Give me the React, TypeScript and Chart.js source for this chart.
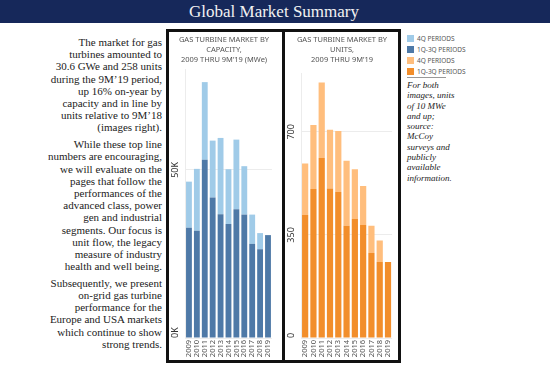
import React, { useEffect, useRef } from "react";
import { Chart, registerables } from "chart.js";

Chart.register(...registerables);

const YEARS = ["2009", "2010", "2011", "2012", "2013", "2014", "2015", "2016", "2017", "2018", "2019"];

// Capacity, thousand MWe
const CAP_Q1Q3 = [32.8, 31.9, 53.0, 41.8, 36.8, 33.9, 38.3, 36.7, 28.0, 26.4, 30.6];
const CAP_Q4 = [13.7, 18.4, 23.1, 16.9, 22.7, 16.3, 20.7, 14.4, 8.7, 4.8, 0];
const CAP_TICKS = [0, 50];

// Units
const UNIT_Q1Q3 = [418, 506, 611, 508, 496, 381, 404, 384, 289, 258, 258];
const UNIT_Q4 = [175, 217, 257, 199, 207, 221, 169, 132, 92, 73, 0];
const UNIT_TICKS = [0, 350, 700];

const LEGEND_ITEMS = [
  { label: "4Q PERIODS", color: "#a0cbe8" },
  { label: "1Q-3Q PERIODS", color: "#4e79a7" },
  { label: "4Q PERIODS", color: "#ffbe7d" },
  { label: "1Q-3Q PERIODS", color: "#f28e2b" },
];

const SANS = "'Noto Sans', 'Open Sans', sans-serif";
const SERIF = "'Liberation Serif', 'DejaVu Serif', serif";

type BarProps = {
  left: number;
  width: number;
  title: string[];
  q13: number[];
  q4: number[];
  dark: string;
  light: string;
  max: number;
  ticks: number[];
  suffix: string;
  titlePadBottom: number;
  barPct: number;
};

function BarChart(p: BarProps) {
  const ref = useRef<HTMLCanvasElement>(null);
  useEffect(() => {
    if (!ref.current) return;
    const yLabelPlugin = {
      id: "yLabels",
      afterDraw(chart: any) {
        const ctx = chart.ctx;
        const ys = chart.scales.y;
        ctx.save();
        ctx.fillStyle = "#333";
        ctx.font = `9px ${SANS}`;
        ctx.textBaseline = "middle";
        for (const v of p.ticks) {
          const py = ys.getPixelForValue(v);
          ctx.save();
          ctx.translate(chart.chartArea.left - 9.5, py);
          ctx.rotate(-Math.PI / 2);
          ctx.textAlign = v === 0 ? "left" : "center";
          ctx.fillText(`${v}${p.suffix}`, v === 0 ? 0 : 0, 0);
          ctx.restore();
        }
        ctx.restore();
      },
    };
    const chart = new Chart(ref.current, {
      type: "bar",
      data: {
        labels: YEARS,
        datasets: [
          {
            label: "1Q-3Q PERIODS",
            data: p.q13,
            backgroundColor: p.dark,
            barPercentage: p.barPct,
            categoryPercentage: 1,
          },
          {
            label: "4Q PERIODS",
            data: p.q4,
            backgroundColor: p.light,
            barPercentage: p.barPct,
            categoryPercentage: 1,
          },
        ],
      },
      options: {
        animation: false,
        responsive: false,
        maintainAspectRatio: false,
        layout: { padding: 0 },
        plugins: {
          legend: { display: false },
          tooltip: { enabled: false },
          title: {
            display: true,
            text: p.title,
            color: "#555",
            font: { family: SANS, size: 7.5, weight: "normal", lineHeight: 1.3334 },
            padding: { top: 3, bottom: p.titlePadBottom },
          },
        },
        scales: {
          x: {
            stacked: true,
            grid: { display: false, drawTicks: false },
            border: { display: false },
            ticks: {
              color: "#555",
              font: { family: SANS, size: 7.5 },
              minRotation: 90,
              maxRotation: 90,
              padding: 2,
              autoSkip: false,
            },
            afterFit(scale: any) {
              scale.height = 22;
            },
          },
          y: {
            stacked: true,
            min: 0,
            max: p.max,
            grid: { color: "#ececec", drawTicks: false },
            border: { display: true, color: "#ececec" },
            ticks: { display: false },
            afterBuildTicks(scale: any) {
              scale.ticks = p.ticks.map((v) => ({ value: v }));
            },
            afterFit(scale: any) {
              scale.width = 16;
            },
          },
        },
      },
      plugins: [yLabelPlugin],
    });
    return () => chart.destroy();
  }, []);
  return (
    <canvas
      ref={ref}
      width={p.width}
      height={328}
      style={{ position: "absolute", left: p.left, top: 32, width: p.width, height: 328 }}
    />
  );
}

const P1 = [
  "The market for gas",
  "turbines amounted to",
  "30.6 GWe and 258 units",
  "during the 9M\u201919 period,",
  "up 16% on-year by",
  "capacity and in line by",
  "units relative to 9M\u201918",
  "(images right).",
];
const P2 = [
  "While these top line",
  "numbers are encouraging,",
  "we will evaluate on the",
  "pages that follow the",
  "performances of the",
  "advanced class, power",
  "gen and industrial",
  "segments. Our focus is",
  "unit flow, the legacy",
  "measure of industry",
  "health and well being.",
];
const P3 = [
  "Subsequently, we present",
  "on-grid gas turbine",
  "performance for the",
  "Europe and USA markets",
  "which continue to show",
  "strong trends.",
];
const NOTE = [
  "For both",
  "images, units",
  "of 10 MWe",
  "and up;",
  "source:",
  "McCoy",
  "surveys and",
  "publicly",
  "available",
  "information.",
];

export default function App() {
  const para = (lines: string[], mt: number) => (
    <div style={{ marginTop: mt }}>
      {lines.map((l, i) => (
        <div key={i}>{l}</div>
      ))}
    </div>
  );
  return (
    <div style={{ position: "absolute", left: 0, top: 0, width: 550, height: 371, background: "#fff", overflow: "hidden" }}>
      <div
        style={{
          position: "absolute",
          left: 0,
          top: 0,
          width: 550,
          height: 23,
          background: "#16285a",
        }}
      />
      <div
        style={{
          position: "absolute",
          left: 174,
          top: 0,
          width: 200,
          height: 23,
          lineHeight: "23px",
          textAlign: "center",
          color: "#f2f2f2",
          fontFamily: SERIF,
          fontSize: 17,
        }}
      >
        Global Market Summary
      </div>

      <div
        style={{
          position: "absolute",
          left: 0,
          top: 36,
          width: 162,
          textAlign: "right",
          fontFamily: SERIF,
          fontSize: 11,
          lineHeight: "12.2px",
          color: "#222",
          whiteSpace: "nowrap",
        }}
      >
        {para(P1, 0)}
        {para(P2, 4.5)}
        {para(P3, 4.5)}
      </div>

      <div style={{ position: "absolute", left: 166, top: 29, width: 119, height: 334, boxSizing: "border-box", border: "3px solid #111" }} />
      <div style={{ position: "absolute", left: 282, top: 29, width: 119, height: 334, boxSizing: "border-box", border: "3px solid #111" }} />

      <BarChart
        left={169}
        width={110}
        title={["GAS TURBINE MARKET BY", "CAPACITY,", "2009 THRU 9M\u201919 (MWe)"]}
        q13={CAP_Q1Q3}
        q4={CAP_Q4}
        dark="#4e79a7"
        light="#a0cbe8"
        max={80}
        ticks={CAP_TICKS}
        suffix="K"
        titlePadBottom={4}
        barPct={0.74}
      />
      <BarChart
        left={285}
        width={114}
        title={["GAS TURBINE MARKET BY", "UNITS,", "2009 THRU 9M\u201919"]}
        q13={UNIT_Q1Q3}
        q4={UNIT_Q4}
        dark="#f28e2b"
        light="#ffbe7d"
        max={900}
        ticks={UNIT_TICKS}
        suffix=""
        titlePadBottom={8}
        barPct={0.75}
      />

      <div style={{ position: "absolute", left: 407, top: 33 }}>
        {LEGEND_ITEMS.map((it, i) => (
          <div key={i} style={{ display: "flex", alignItems: "center", height: 11 }}>
            <div style={{ width: 7, height: 7, background: it.color, marginRight: 3 }} />
            <div style={{ fontFamily: SANS, fontSize: 6.5, color: "#555", lineHeight: "11px" }}>{it.label}</div>
          </div>
        ))}
      </div>
      <div style={{ position: "absolute", left: 407, top: 77, width: 39, height: 1, background: "#999" }} />
      <div
        style={{
          position: "absolute",
          left: 407,
          top: 80,
          fontFamily: SERIF,
          fontStyle: "italic",
          fontSize: 9,
          lineHeight: "10.3px",
          color: "#222",
          whiteSpace: "nowrap",
        }}
      >
        {NOTE.map((l, i) => (
          <div key={i}>{l}</div>
        ))}
      </div>
    </div>
  );
}
